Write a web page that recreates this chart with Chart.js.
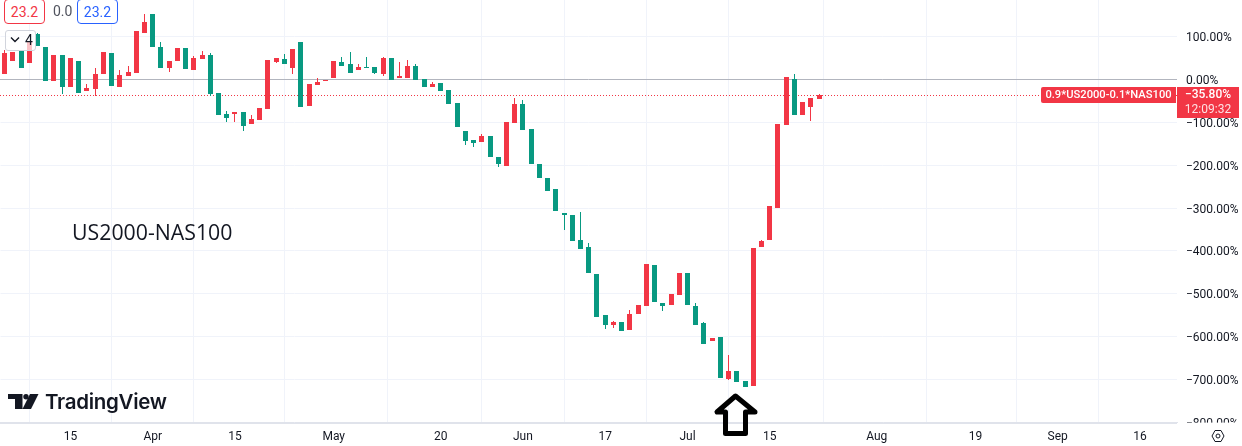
<!DOCTYPE html>
<html>
<head>
<meta charset="utf-8">
<script src="https://cdn.jsdelivr.net/npm/chart.js@4"></script>
<style>
  body { margin: 0; background: #fff; font-family: Roboto, sans-serif; color: #131722; }
  #wrap { position: relative; width: 1242px; height: 446px; overflow: hidden; }
  canvas { position: absolute; left: 0; top: 0; }
  .chip { position: absolute; top: -1px; width: 39px; height: 23px; line-height: 25px; text-align: center; border: 1px solid; border-radius: 4px; font-size: 14px; background: #fff; }
  #btn { position: absolute; left: 5px; top: 30px; width: 29px; height: 19px; border: 1px solid #d1d4dc; border-radius: 3px; background: rgba(255,255,255,.7); font-size: 14px; line-height: 19px; }
  #note { position: absolute; left: 72px; top: 217px; font: 500 21.3px "Open Sans", sans-serif; line-height: 30px; color: #131722; }
  #brand { position: absolute; left: 45px; top: 388px; font: 600 20.5px Inter, sans-serif; line-height: 28px; letter-spacing: -0.3px; }
  svg { position: absolute; left: 0; top: 0; }
</style>
</head>
<body>
<div id="wrap">
  <canvas id="grafico" width="1242" height="446"></canvas>
  <div class="chip" style="left:4px;color:#f23645;border-color:#f23645">23.2</div>
  <div style="position:absolute;left:53px;top:3px;font-size:14px;color:#50535e">0.0</div>
  <div class="chip" style="left:77px;color:#2962ff;border-color:#2962ff">23.2</div>
  <div id="btn"><span style="position:absolute;left:19px;top:0">4</span></div>
  <div id="note">US2000-NAS100</div>
  <div id="brand">TradingView</div>
  <svg width="1242" height="446">
    <path d="M11 35.5l4 4 4-4" transform="translate(0 2)" fill="none" stroke="#131722" stroke-width="1.4"/>
    <path d="M8 394h14.5v15h-7.5v-10h-7z M30 394h8.5l-7.5 15h-8.5z" fill="#131722"/>
    <circle cx="26" cy="396.7" r="2.7" fill="#131722"/>
    <path d="M735.5 396L717 412h8.5v21.5h20V412h9.5z" fill="none" stroke="#000" stroke-width="5" stroke-linejoin="round"/>
    <path d="M1212 436l3-5.5h6l3 5.5-3 5.5h-6z" fill="none" stroke="#131722" stroke-width="1"/>
    <circle cx="1218" cy="436" r="2" fill="none" stroke="#131722" stroke-width="1"/>
  </svg>
</div>
<script>
const categories = [
  "03-05","03-06","03-07","03-08","03-11","03-12","03-13","03-14","03-15","03-18","03-19","03-20","03-21","03-22","03-25","03-26","03-27","03-28",
  "04-01","04-02","04-03","04-04","04-05","04-08","04-09","04-10","04-11","04-12","04-15","04-16","04-17","04-18","04-19","04-22","04-23","04-24","04-25","04-26","04-29","04-30",
  "05-01","05-02","05-03","05-06","05-07","05-08","05-09","05-10","05-13","05-14","05-15","05-16","05-17","05-20","05-21","05-22","05-23","05-24","05-27","05-28","05-29","05-30","05-31",
  "06-03","06-04","06-05","06-06","06-07","06-10","06-11","06-12","06-13","06-14","06-17","06-18","06-19","06-20","06-21","06-24","06-25","06-26","06-27","06-28",
  "07-01","07-02","07-03","07-04","07-05","07-08","07-09","07-10","07-11","07-12","07-15","07-16","07-17","07-18","07-19","07-22","07-23","07-24","07-25","07-26","07-29","07-30","07-31",
  "08-01","08-02","08-05","08-06","08-07","08-08","08-09","08-12","08-13","08-14","08-15","08-16","08-19","08-20","08-21","08-22","08-23","08-26","08-27","08-28","08-29","08-30",
  "09-02","09-03","09-04","09-05","09-06","09-09","09-10","09-11","09-12","09-13","09-16","09-17","09-18","09-19","09-20"
];

const tickLabels = {
  "03-15": "15", "04-01": "Apr", "04-15": "15", "05-01": "May", "05-20": "20", "06-03": "Jun",
  "06-17": "17", "07-01": "Jul", "07-15": "15", "08-01": "Aug", "08-19": "19", "09-02": "Sep", "09-16": "16"
};

const opens = [13,43,66,38,106,76,-4,57,-18,43,-27,-22,13,62,-18,8,15,108,152,76,27,43,73,22,48,57,-32,-81,-81,-76,-104,-95,-69,41,48,27,87,-62,-13,-4,3,41,36,22,29,29,13,50,3,3,31,1,-18,-8,-25,-55,-120,-141,-146,-132,-181,-202,-102,-57,-116,-197,-230,-255,-311,-316,-374,-391,-454,-549,-573,-566,-584,-547,-528,-433,-521,-526,-503,-451,-528,-568,-610,-600,-698,-680,-703,-715,-391,-374,-300,-106,1,-83,-64,-46];
const highs = [69,64,66,87,108,76,57,57,50,43,-11,27,64,62,22,31,113,152,152,87,43,73,73,55,66,62,-32,-74,-76,-76,-83,-67,45,50,59,71,87,-11,3,-1,43,52,64,36,52,29,52,50,41,45,36,1,-6,-8,-25,-55,-120,-141,-127,-132,-181,-99,-43,-48,-116,-197,-230,-255,-311,-316,-309,-381,-454,-549,-563,-566,-537,-526,-430,-433,-521,-500,-451,-451,-521,-566,-603,-600,-642,-680,-703,-393,-374,-295,-104,6,13,-53,-43,-34];
const lows = [13,43,27,38,78,-4,-4,-34,-18,-32,-27,-39,13,-15,-18,8,15,108,76,27,17,43,24,22,48,-39,-83,-99,-99,-120,-104,-95,-69,38,36,13,-64,-62,-13,-4,3,31,15,22,27,13,8,-1,3,3,-1,-18,-18,-27,-57,-111,-153,-158,-146,-181,-204,-202,-102,-118,-197,-230,-260,-307,-351,-377,-395,-451,-554,-582,-580,-587,-584,-547,-528,-519,-540,-526,-503,-526,-573,-617,-610,-696,-700,-705,-717,-715,-391,-374,-300,-106,-83,-83,-97,-46];
const closes = [62,64,27,87,78,-4,57,-18,50,-32,-20,13,64,-15,10,17,113,134,76,27,43,73,24,50,57,-34,-83,-90,-76,-109,-92,-67,45,50,36,71,-64,-11,-6,-1,43,31,15,29,27,15,50,-1,8,31,-1,-18,-11,-27,-57,-111,-144,-148,-132,-181,-197,-99,-57,-118,-197,-230,-260,-307,-316,-377,-395,-451,-554,-573,-566,-587,-547,-526,-430,-519,-528,-500,-451,-526,-573,-617,-603,-696,-680,-705,-717,-393,-377,-295,-104,6,-83,-53,-43,-35.8];

const PRICE_LABEL = "0.9*US2000-0.1*NAS100";
const COUNTDOWN = "12:09:32";

const RED = "#f23645";
const GREEN = "#089981";
const GRID = "#f0f3fa";
const FONT = "Roboto";

function pct(v) {
  return (v < 0 ? "\u2212" : "") + Math.abs(v).toFixed(2) + "%";
}

const corpos = opens.map((o, i) => [o, closes[i]]);
const pavios = lows.map((l, i) => [l, highs[i]]);
const cores = closes.map((c, i) => (c >= opens[i] ? RED : GREEN));

// linha do zero e linha pontilhada do ultimo preco, atras das velas
const linhas = {
  id: "linhas",
  beforeDatasetsDraw(chart) {
    const { ctx, chartArea, scales } = chart;

    // velas alinhadas ao pixel, sem borda borrada
    chart.data.datasets.forEach((d, n) => {
      chart.getDatasetMeta(n).data.forEach(b => {
        b.x = Math.floor(b.x) + 0.5;
        b.y = Math.round(b.y);
        b.base = Math.round(b.base);
      });
    });

    ctx.save();
    ctx.lineWidth = 1;
    const y0 = Math.round(scales.y.getPixelForValue(0)) + 0.5;
    ctx.strokeStyle = "#b2b5be";
    ctx.beginPath();
    ctx.moveTo(0, y0);
    ctx.lineTo(chartArea.right, y0);
    ctx.stroke();
    const yp = Math.round(scales.y.getPixelForValue(closes[closes.length - 1])) + 0.5;
    ctx.strokeStyle = RED;
    ctx.setLineDash([1, 2]);
    ctx.beginPath();
    ctx.moveTo(0, yp);
    ctx.lineTo(chartArea.right, yp);
    ctx.stroke();
    ctx.restore();
  },
  afterDraw(chart) {
    const { ctx, chartArea, scales } = chart;
    const yp = Math.round(scales.y.getPixelForValue(closes[closes.length - 1]));
    ctx.save();
    // corta o rotulo de baixo na linha do eixo
    ctx.fillStyle = "#fff";
    ctx.fillRect(chartArea.right + 1, chartArea.bottom, 70, 24);

    ctx.fillStyle = RED;
    ctx.beginPath();
    ctx.roundRect(1041, yp - 8, 135, 16, [2, 0, 0, 2]);
    ctx.fill();
    ctx.fillRect(1177, yp - 8, 62, 31);

    ctx.fillStyle = "#fff";
    ctx.textBaseline = "middle";
    ctx.textAlign = "center";
    ctx.font = "500 11.2px " + FONT;
    ctx.fillText(PRICE_LABEL, 1108.5, yp);
    ctx.font = "500 12px " + FONT;
    ctx.fillText(pct(closes[closes.length - 1]), 1208, yp);
    ctx.font = "12px " + FONT;
    ctx.fillStyle = "rgba(255,255,255,.85)";
    ctx.fillText(COUNTDOWN, 1208, yp + 15);
    ctx.restore();

    // linha do eixo e grade de baixo ficam sob o recorte acima
    ctx.fillStyle = "#e0e3eb";
    ctx.fillRect(0, Math.round(chartArea.bottom), chartArea.right, 1);
  }
};

new Chart(document.getElementById("grafico"), {
  type: "bar",
  data: {
    labels: categories,
    datasets: [
      { label: "pavio", data: pavios, backgroundColor: cores, barThickness: 1, order: 2 },
      { label: "corpo", data: corpos, backgroundColor: cores, barThickness: 5, order: 1 }
    ]
  },
  options: {
    responsive: false,
    animation: false,
    layout: { padding: { left: 0.5 } },
    datasets: { bar: { grouped: false, borderWidth: 0, inflateAmount: 0 } },
    plugins: { legend: { display: false }, tooltip: { enabled: false } },
    scales: {
      x: {
        offset: true,
        afterBuildTicks(axis) {
          axis.ticks = axis.ticks.filter(t => tickLabels[categories[t.value]]);
        },
        afterFit(axis) {
          axis.height = 23.4;
          axis.paddingLeft = 0;
          axis.paddingRight = 0;
        },
        grid: { color: GRID, drawTicks: false, tickLength: 0 },
        border: { color: "#e0e3eb" },
        ticks: {
          autoSkip: false,
          maxRotation: 0,
          padding: 7,
          color: "#131722",
          font: { family: FONT, size: 12 },
          callback: v => tickLabels[categories[v]]
        }
      },
      y: {
        position: "right",
        min: -800,
        max: 185,
        afterFit(axis) {
          axis.width = 65;
          axis.paddingTop = 0;
          axis.paddingBottom = 0;
        },
        grid: { color: GRID, drawTicks: false, tickLength: 0 },
        border: { display: false },
        ticks: {
          stepSize: 100,
          includeBounds: false,
          padding: 9,
          color: "#131722",
          // linha vazia antes do texto desce o rotulo uns 1.5px
          font: { family: FONT, size: 12, lineHeight: "3px" },
          callback: v => ["", pct(v)]
        }
      }
    }
  },
  plugins: [linhas]
});
</script>
</body>
</html>
